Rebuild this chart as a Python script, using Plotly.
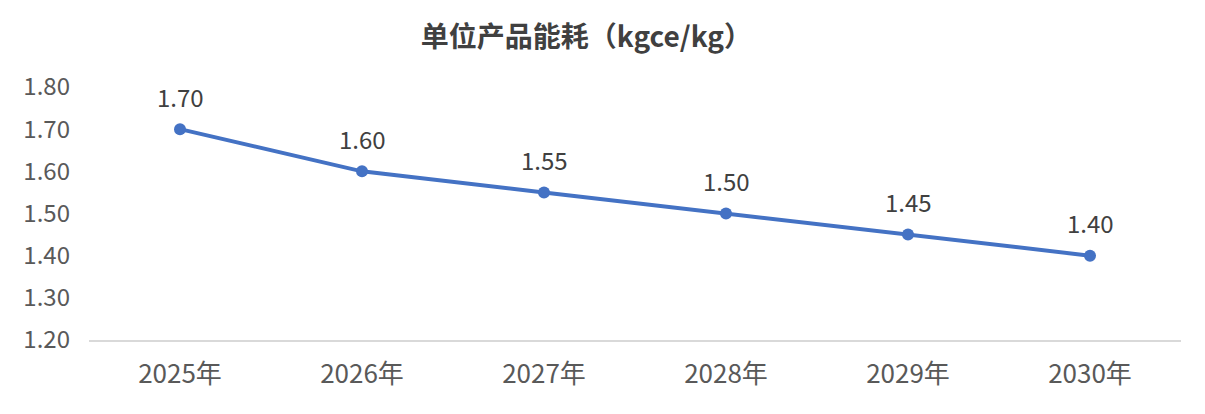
import plotly.graph_objects as go

years = ["2025年", "2026年", "2027年", "2028年", "2029年", "2030年"]
values = [1.70, 1.60, 1.55, 1.50, 1.45, 1.40]
y_ticks = [1.20, 1.30, 1.40, 1.50, 1.60, 1.70, 1.80]
title_text = "单位产品能耗（kgce/kg）"

FONT = "Noto Sans CJK SC"

fig = go.Figure()
fig.add_trace(go.Scatter(
    x=years, y=values,
    mode="lines+markers",
    line=dict(color="#4472C4", width=4),
    marker=dict(color="#4472C4", size=12),
    cliponaxis=False,
    showlegend=False,
))
for xv, yv in zip(years, values):
    fig.add_annotation(x=xv, y=yv, text=f"{yv:.2f}", showarrow=False,
                       yshift=33, yanchor="middle", xanchor="center",
                       font=dict(family=FONT, size=24, color="#404040"))

fig.update_layout(
    width=1205, height=414,
    margin=dict(l=81, r=32, t=79, b=82),
    paper_bgcolor="white", plot_bgcolor="white",
    title=dict(text=f"<b>{title_text}</b>", x=0.48, xanchor="center", y=0.93, yanchor="middle",
               font=dict(family=FONT, size=28, color="#404040")),
    font=dict(family=FONT, color="#595959"),
)
fig.update_xaxes(
    type="category", range=[-0.5, 5.5],
    showgrid=False, showline=True, linecolor="#D9D9D9", linewidth=2,
    ticks="", tickfont=dict(family=FONT, size=26, color="#595959"),
    ticklabelstandoff=10,
)
fig.update_yaxes(
    range=[1.2, 1.8], tickvals=y_ticks, ticktext=[f"{t:.2f}" for t in y_ticks],
    showgrid=False, showline=False, zeroline=False, ticks="",
    tickfont=dict(family=FONT, size=24, color="#595959"),
    ticklabelstandoff=18,
)

fig.write_html("out.html")
